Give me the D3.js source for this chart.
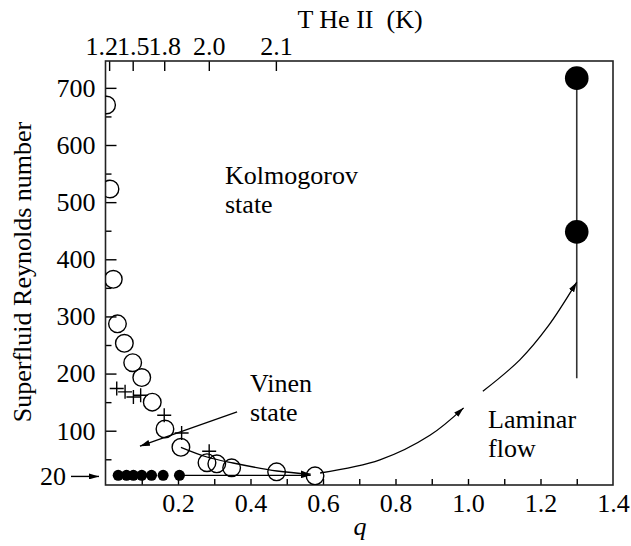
<!DOCTYPE html>
<html lang="en">
<head>
  <meta charset="UTF-8">
  <title>Superfluid Reynolds number vs q</title>
  <script src="https://d3js.org/d3.v7.min.js"></script>
  <style>
    body { margin: 0; background: #fff; }
    svg text { font-family: "Liberation Serif", "DejaVu Serif", serif !important; fill: #000; }
    .axis text { font-size: 26px; }
    .axis line { stroke: #000; stroke-width: 1.4; }
    .note { font-size: 26px; }
  </style>
</head>
<body>
  <svg id="chart" width="631" height="546" font-family="Liberation Serif"></svg>
  <script>
    // open circles
    const openQ  = [0.003, 0.0124, 0.0215, 0.033, 0.052, 0.075, 0.1, 0.129, 0.164, 0.208, 0.28, 0.307, 0.348, 0.472, 0.578];
    const openRe = [670, 523, 365, 287, 253, 219, 193, 150, 103, 71, 44, 42, 35, 28, 21];
    // plus markers
    const plusQ  = [0.031, 0.054, 0.077, 0.097, 0.162, 0.210, 0.286];
    const plusRe = [174, 168, 159, 162, 127, 96, 64];
    // small filled dots
    const dotQ  = [0.035, 0.058, 0.077, 0.1, 0.127, 0.159, 0.204];
    const dotRe = [22, 22, 22, 22, 22, 22, 22];
    // laminar flow points
    const bigQ  = [1.3, 1.3];
    const bigRe = [717, 448];
    const laminarSpan = [192, 717];

    const xMinor = [0.1, 0.2, 0.3, 0.4, 0.5, 0.6, 0.7, 0.8, 0.9, 1.0, 1.1, 1.2, 1.3];
    const xLabels = [0.2, 0.4, 0.6, 0.8, 1.0, 1.2, 1.4];
    const yMajor = [100, 200, 300, 400, 500, 600, 700];
    const yMinor = [50, 150, 250, 350, 450, 550, 650];
    const tempLabels = ["1.2", "1.5", "1.8", "2.0", "2.1"];
    const tempQ = [0.01, 0.075, 0.162, 0.285, 0.47];

    // annotation paths, in data units
    const vinenArrow = [[0.363, 133], [0.095, 73]];
    const flowArrow = [[0.204, 22], [0.566, 22]];
    const decayCurve = [[0.208, 71], [0.28, 54], [0.352, 43.5], [0.473, 29.5], [0.566, 24]];
    const laminarA = [[0.592, 26], [0.757, 49], [0.895, 92], [0.988, 140]];
    const laminarB = [[1.041, 169], [1.143, 224], [1.22, 282], [1.30, 360]];

    const box = { left: 105.5, right: 613, top: 61, bottom: 485 };
    const svg = d3.select("#chart");

    const x = d3.scaleLinear().domain([0, 1.4]).range([box.left, box.right]);
    const y = d3.scaleLinear().domain([5, 747]).range([box.bottom, box.top]);

    const defs = svg.append("defs");
    defs.append("clipPath").attr("id", "plot")
      .append("rect")
      .attr("x", box.left).attr("y", box.top)
      .attr("width", box.right - box.left).attr("height", box.bottom - box.top);
    defs.append("marker")
      .attr("id", "head")
      .attr("viewBox", "0 0 10 6")
      .attr("refX", 10).attr("refY", 3)
      .attr("markerWidth", 10).attr("markerHeight", 6)
      .attr("markerUnits", "userSpaceOnUse")
      .attr("orient", "auto")
      .append("path").attr("d", "M0,0 L10,3 L0,6 Z").attr("fill", "#000");

    const serif = "Liberation Serif";

    // axes
    svg.append("g").attr("class", "axis")
      .attr("transform", `translate(0,${box.bottom})`)
      .call(d3.axisBottom(x).tickValues(xMinor).tickSizeInner(-6).tickSizeOuter(0).tickFormat(""));
    svg.append("g").attr("class", "axis")
      .attr("transform", `translate(0,${box.bottom})`)
      .call(d3.axisBottom(x).tickValues(xLabels).tickSize(0).tickPadding(9).tickFormat(d3.format(".1f")));

    svg.append("g").attr("class", "axis")
      .attr("transform", `translate(${box.left},0)`)
      .call(d3.axisLeft(y).tickValues(yMajor).tickSizeInner(-11).tickSizeOuter(0).tickPadding(10));
    svg.append("g").attr("class", "axis")
      .attr("transform", `translate(${box.left},0)`)
      .call(d3.axisLeft(y).tickValues(yMinor).tickSizeInner(-6).tickSizeOuter(0).tickFormat(""));

    const topAxis = svg.append("g").attr("class", "axis")
      .attr("transform", `translate(0,${box.top})`)
      .call(d3.axisTop(x).tickValues(tempQ).tickSizeInner(-10).tickSizeOuter(0).tickPadding(6)
        .tickFormat((d, i) => tempLabels[i]));
    topAxis.selectAll("text").attr("dx", (d, i) => i === 0 ? -8 : 0);

    svg.selectAll(".axis").attr("font-family", serif).attr("font-size", 26);
    svg.selectAll(".axis .domain").remove();

    // frame
    svg.append("rect")
      .attr("x", box.left).attr("y", box.top)
      .attr("width", box.right - box.left).attr("height", box.bottom - box.top)
      .attr("fill", "none").attr("stroke", "#222").attr("stroke-width", 1.6);

    // 20 marker on the left
    svg.append("text").attr("class", "note")
      .attr("x", 66).attr("y", y(20)).attr("dy", "0.32em")
      .attr("text-anchor", "end").text("20");
    svg.append("line")
      .attr("x1", 71).attr("x2", 99).attr("y1", y(20)).attr("y2", y(20))
      .attr("stroke", "#000").attr("stroke-width", 1.4).attr("marker-end", "url(#head)");

    // titles
    svg.append("text").attr("class", "note")
      .attr("x", 360).attr("y", 28).attr("text-anchor", "middle")
      .style("white-space", "pre").text("T He II  (K)");
    svg.append("text").attr("class", "note")
      .attr("x", 360).attr("y", 535).attr("text-anchor", "middle")
      .style("font-style", "italic").text("q");
    svg.append("text").attr("class", "note")
      .attr("transform", "translate(31,272) rotate(-90)")
      .attr("text-anchor", "middle").text("Superfluid Reynolds number");

    const plot = svg.append("g").attr("clip-path", "url(#plot)");
    const line = d3.line().x(d => x(d[0])).y(d => y(d[1]));
    const curve = d3.line().x(d => x(d[0])).y(d => y(d[1])).curve(d3.curveCatmullRom);

    // laminar vertical line
    plot.append("line")
      .attr("x1", x(1.3)).attr("x2", x(1.3))
      .attr("y1", y(laminarSpan[0])).attr("y2", y(laminarSpan[1]))
      .attr("stroke", "#333").attr("stroke-width", 1.6);

    // arrows
    [vinenArrow, flowArrow].forEach(p => {
      plot.append("path").attr("d", line(p))
        .attr("fill", "none").attr("stroke", "#000").attr("stroke-width", 1.3)
        .attr("marker-end", "url(#head)");
    });
    [decayCurve, laminarA, laminarB].forEach(p => {
      plot.append("path").attr("d", curve(p))
        .attr("fill", "none").attr("stroke", "#000").attr("stroke-width", 1.3)
        .attr("marker-end", "url(#head)");
    });

    // filled dots
    plot.selectAll("circle.dot")
      .data(dotQ.map((q, i) => [q, dotRe[i]]))
      .join("circle").attr("class", "dot")
      .attr("cx", d => x(d[0])).attr("cy", d => y(d[1])).attr("r", 5.5)
      .attr("fill", "#000");

    // open circles
    plot.selectAll("circle.open")
      .data(openQ.map((q, i) => [q, openRe[i]]))
      .join("circle").attr("class", "open")
      .attr("cx", d => x(d[0])).attr("cy", d => y(d[1])).attr("r", 8.8)
      .attr("fill", "none").attr("stroke", "#000").attr("stroke-width", 1.4);

    // plus markers
    plot.selectAll("path.plus")
      .data(plusQ.map((q, i) => [q, plusRe[i]]))
      .join("path").attr("class", "plus")
      .attr("d", d => `M${x(d[0]) - 7},${y(d[1])}h14M${x(d[0])},${y(d[1]) - 7}v14`)
      .attr("stroke", "#000").attr("stroke-width", 1.4);

    // big filled dots
    plot.selectAll("circle.big")
      .data(bigQ.map((q, i) => [q, bigRe[i]]))
      .join("circle").attr("class", "big")
      .attr("cx", d => x(d[0])).attr("cy", d => y(d[1])).attr("r", 11.8)
      .attr("fill", "#000");

    // region labels
    const notes = [
      { t: ["Kolmogorov", "state"], x: 225, y: 184 },
      { t: ["Vinen", "state"], x: 250, y: 392 },
      { t: ["Laminar", "flow"], x: 488, y: 428 }
    ];
    notes.forEach(n => {
      const t = svg.append("text").attr("class", "note").attr("x", n.x).attr("y", n.y);
      n.t.forEach((s, i) => t.append("tspan").attr("x", n.x).attr("dy", i ? 29 : 0).text(s));
    });
    svg.selectAll("text").attr("font-family", serif);
  </script>
</body>
</html>
